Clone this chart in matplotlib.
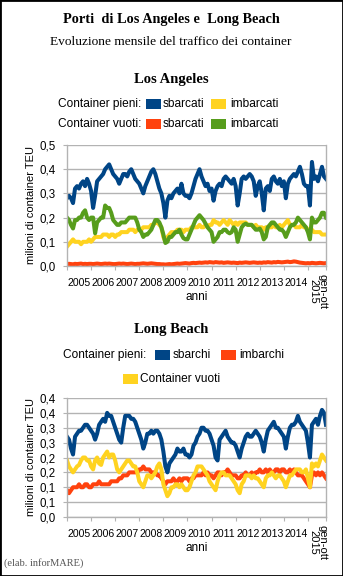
import numpy as np
import matplotlib
matplotlib.use("Agg")
import matplotlib.pyplot as plt
from matplotlib.patches import Rectangle

# Etichette asse x
anni = ["2005", "2006", "2007", "2008", "2009", "2010", "2011", "2012", "2013", "2014"]
ultimo = "gen-ott\n2015"

# Los Angeles (milioni di TEU, mensile gen 2005 - ott 2015)
la_pieni_sbarcati = [
    0.28, 0.29, 0.28, 0.26, 0.32, 0.33, 0.32, 0.34, 0.35, 0.33, 0.36, 0.34,
    0.31, 0.24, 0.29, 0.35, 0.36, 0.37, 0.38, 0.40, 0.41, 0.42, 0.40, 0.38,
    0.37, 0.36, 0.34, 0.36, 0.38, 0.38, 0.37, 0.39, 0.40, 0.38, 0.36, 0.35,
    0.34, 0.32, 0.30, 0.33, 0.35, 0.37, 0.39, 0.40, 0.38, 0.35, 0.32, 0.30,
    0.26, 0.20, 0.27, 0.29, 0.28, 0.30, 0.31, 0.32, 0.30, 0.34, 0.30, 0.29,
    0.29, 0.28, 0.30, 0.33, 0.36, 0.38, 0.40, 0.37, 0.35, 0.33, 0.34, 0.31,
    0.32, 0.27, 0.31, 0.33, 0.34, 0.33, 0.36, 0.37, 0.36, 0.35, 0.34, 0.36,
    0.33, 0.25, 0.30, 0.36, 0.37, 0.36, 0.37, 0.38, 0.37, 0.35, 0.29, 0.33,
    0.35, 0.30, 0.23, 0.32, 0.33, 0.31, 0.36, 0.37, 0.35, 0.34, 0.36, 0.33,
    0.35, 0.28, 0.34, 0.36, 0.37, 0.38, 0.37, 0.39, 0.41, 0.38, 0.34, 0.33,
    0.33, 0.25, 0.43, 0.36, 0.37, 0.35, 0.38, 0.41, 0.37, 0.36,
]
la_pieni_imbarcati = [
    0.08, 0.09, 0.10, 0.11, 0.10, 0.10, 0.10, 0.09, 0.10, 0.10, 0.10, 0.11,
    0.10, 0.11, 0.12, 0.12, 0.12, 0.12, 0.13, 0.13, 0.13, 0.12, 0.13, 0.13,
    0.12, 0.13, 0.13, 0.14, 0.14, 0.14, 0.14, 0.15, 0.15, 0.15, 0.14, 0.15,
    0.15, 0.15, 0.16, 0.16, 0.16, 0.16, 0.17, 0.17, 0.18, 0.18, 0.17, 0.16,
    0.12, 0.10, 0.12, 0.13, 0.14, 0.14, 0.14, 0.15, 0.15, 0.15, 0.14, 0.15,
    0.15, 0.15, 0.16, 0.16, 0.16, 0.16, 0.17, 0.16, 0.16, 0.17, 0.16, 0.17,
    0.17, 0.19, 0.18, 0.18, 0.17, 0.18, 0.19, 0.18, 0.17, 0.19, 0.18, 0.17,
    0.18, 0.17, 0.18, 0.18, 0.18, 0.18, 0.17, 0.17, 0.17, 0.16, 0.17, 0.16,
    0.16, 0.16, 0.15, 0.16, 0.16, 0.16, 0.16, 0.17, 0.16, 0.16, 0.17, 0.16,
    0.17, 0.18, 0.19, 0.17, 0.17, 0.17, 0.16, 0.16, 0.16, 0.17, 0.16, 0.16,
    0.15, 0.15, 0.15, 0.14, 0.14, 0.14, 0.14, 0.13, 0.13, 0.13,
]
la_vuoti_sbarcati = [
    0.008, 0.009, 0.008, 0.007, 0.009, 0.008, 0.009, 0.010, 0.008, 0.009, 0.008, 0.009,
    0.009, 0.008, 0.009, 0.010, 0.009, 0.008, 0.009, 0.010, 0.009, 0.010, 0.009, 0.008,
    0.008, 0.009, 0.010, 0.009, 0.010, 0.009, 0.008, 0.009, 0.010, 0.009, 0.008, 0.009,
    0.009, 0.010, 0.011, 0.010, 0.009, 0.010, 0.011, 0.010, 0.009, 0.008, 0.008, 0.007,
    0.007, 0.006, 0.007, 0.008, 0.007, 0.008, 0.009, 0.010, 0.009, 0.010, 0.011, 0.012,
    0.011, 0.010, 0.012, 0.013, 0.012, 0.013, 0.014, 0.013, 0.014, 0.015, 0.014, 0.016,
    0.015, 0.014, 0.016, 0.015, 0.014, 0.015, 0.013, 0.014, 0.015, 0.014, 0.013, 0.014,
    0.013, 0.012, 0.014, 0.013, 0.014, 0.015, 0.014, 0.013, 0.014, 0.015, 0.014, 0.013,
    0.014, 0.013, 0.015, 0.014, 0.016, 0.015, 0.014, 0.016, 0.015, 0.017, 0.016, 0.015,
    0.016, 0.017, 0.018, 0.016, 0.017, 0.019, 0.018, 0.016, 0.014, 0.013, 0.012, 0.011,
    0.012, 0.011, 0.013, 0.012, 0.011, 0.012, 0.013, 0.012, 0.011, 0.012,
]
la_vuoti_imbarcati = [
    0.20, 0.19, 0.17, 0.155, 0.19, 0.19, 0.20, 0.20, 0.22, 0.23, 0.20, 0.19,
    0.20, 0.20, 0.135, 0.18, 0.19, 0.20, 0.20, 0.25, 0.24, 0.24, 0.22, 0.19,
    0.18, 0.17, 0.17, 0.18, 0.18, 0.18, 0.19, 0.20, 0.20, 0.20, 0.20, 0.18,
    0.15, 0.14, 0.12, 0.13, 0.13, 0.14, 0.15, 0.17, 0.19, 0.19, 0.18, 0.16,
    0.13, 0.095, 0.10, 0.12, 0.12, 0.13, 0.14, 0.14, 0.15, 0.13, 0.115, 0.11,
    0.11, 0.13, 0.15, 0.17, 0.19, 0.20, 0.21, 0.20, 0.19, 0.175, 0.16, 0.15,
    0.14, 0.10, 0.11, 0.12, 0.14, 0.14, 0.15, 0.15, 0.14, 0.135, 0.14, 0.16,
    0.15, 0.10, 0.13, 0.16, 0.17, 0.175, 0.17, 0.17, 0.17, 0.16, 0.15, 0.15,
    0.155, 0.14, 0.11, 0.12, 0.16, 0.17, 0.18, 0.18, 0.17, 0.16, 0.15, 0.15,
    0.14, 0.12, 0.14, 0.16, 0.17, 0.17, 0.18, 0.20, 0.19, 0.18, 0.17, 0.16,
    0.14, 0.11, 0.20, 0.18, 0.18, 0.19, 0.20, 0.22, 0.22, 0.20,
]

# Long Beach
lb_sbarchi = [
    0.27, 0.26, 0.23, 0.21, 0.27, 0.28, 0.29, 0.29, 0.30, 0.31, 0.31, 0.30,
    0.29, 0.28, 0.26, 0.28, 0.31, 0.32, 0.33, 0.32, 0.35, 0.34, 0.34, 0.32,
    0.30, 0.28, 0.26, 0.25, 0.30, 0.34, 0.34, 0.34, 0.33, 0.33, 0.32, 0.30,
    0.28, 0.26, 0.23, 0.25, 0.28, 0.28, 0.29, 0.28, 0.29, 0.29, 0.28, 0.26,
    0.22, 0.17, 0.15, 0.18, 0.19, 0.20, 0.21, 0.23, 0.22, 0.22, 0.23, 0.21,
    0.21, 0.20, 0.21, 0.24, 0.25, 0.27, 0.28, 0.30, 0.30, 0.29, 0.29, 0.28,
    0.26, 0.24, 0.20, 0.19, 0.26, 0.27, 0.28, 0.29, 0.27, 0.26, 0.25, 0.25,
    0.24, 0.22, 0.20, 0.23, 0.25, 0.27, 0.28, 0.27, 0.27, 0.28, 0.29, 0.28,
    0.27, 0.25, 0.22, 0.26, 0.29, 0.30, 0.31, 0.32, 0.30, 0.30, 0.29, 0.28,
    0.27, 0.23, 0.27, 0.30, 0.31, 0.31, 0.32, 0.34, 0.32, 0.31, 0.30, 0.29,
    0.25, 0.20, 0.31, 0.32, 0.33, 0.31, 0.34, 0.36, 0.35, 0.31,
]
lb_imbarchi = [
    0.09, 0.08, 0.09, 0.10, 0.10, 0.10, 0.11, 0.10, 0.10, 0.11, 0.11, 0.10,
    0.10, 0.11, 0.11, 0.11, 0.12, 0.11, 0.11, 0.11, 0.11, 0.11, 0.12, 0.12,
    0.12, 0.12, 0.13, 0.13, 0.14, 0.14, 0.14, 0.15, 0.15, 0.15, 0.15, 0.15,
    0.16, 0.16, 0.17, 0.16, 0.16, 0.16, 0.15, 0.15, 0.15, 0.14, 0.14, 0.13,
    0.12, 0.11, 0.12, 0.12, 0.12, 0.13, 0.12, 0.12, 0.13, 0.12, 0.13, 0.13,
    0.13, 0.12, 0.13, 0.13, 0.14, 0.14, 0.14, 0.14, 0.15, 0.14, 0.15, 0.14,
    0.14, 0.13, 0.14, 0.15, 0.15, 0.14, 0.15, 0.15, 0.16, 0.15, 0.14, 0.14,
    0.14, 0.13, 0.13, 0.14, 0.14, 0.15, 0.14, 0.14, 0.15, 0.14, 0.15, 0.15,
    0.16, 0.15, 0.15, 0.16, 0.15, 0.16, 0.15, 0.15, 0.16, 0.16, 0.15, 0.16,
    0.16, 0.15, 0.15, 0.16, 0.15, 0.16, 0.15, 0.14, 0.14, 0.14, 0.13, 0.12,
    0.11, 0.10, 0.14, 0.15, 0.14, 0.15, 0.14, 0.15, 0.14, 0.13,
]
lb_vuoti = [
    0.19, 0.17, 0.16, 0.15, 0.16, 0.17, 0.175, 0.19, 0.20, 0.20, 0.19, 0.19,
    0.17, 0.16, 0.19, 0.20, 0.18, 0.175, 0.20, 0.21, 0.22, 0.20, 0.21, 0.21,
    0.19, 0.16, 0.15, 0.16, 0.17, 0.18, 0.19, 0.19, 0.18, 0.17, 0.17, 0.15,
    0.12, 0.11, 0.10, 0.12, 0.14, 0.14, 0.13, 0.14, 0.15, 0.17, 0.18, 0.16,
    0.11, 0.09, 0.07, 0.08, 0.10, 0.10, 0.11, 0.11, 0.10, 0.11, 0.10, 0.09,
    0.09, 0.10, 0.12, 0.14, 0.15, 0.17, 0.17, 0.17, 0.16, 0.15, 0.14, 0.12,
    0.11, 0.10, 0.09, 0.12, 0.14, 0.15, 0.15, 0.14, 0.14, 0.14, 0.13, 0.12,
    0.11, 0.09, 0.08, 0.11, 0.12, 0.14, 0.14, 0.14, 0.13, 0.14, 0.13, 0.13,
    0.12, 0.11, 0.10, 0.13, 0.14, 0.14, 0.15, 0.14, 0.13, 0.14, 0.14, 0.13,
    0.12, 0.10, 0.12, 0.14, 0.14, 0.15, 0.16, 0.16, 0.16, 0.15, 0.15, 0.16,
    0.13, 0.10, 0.18, 0.17, 0.18, 0.17, 0.19, 0.21, 0.20, 0.19,
]

BLU = "#004586"
GIALLO = "#ffd320"
ROSSO = "#ff420e"
VERDE = "#579d1c"
GRIGIO = "#b3b3b3"

W, H = 343, 576
fig = plt.figure(figsize=(W / 100, H / 100), dpi=100)
fig.patch.set_facecolor("white")
fig.patches.append(Rectangle((0, 0), 1, 1, transform=fig.transFigure,
                             fill=False, ec="black", lw=2))

serif = "Liberation Serif"
sans = "Liberation Sans"


def fx(px):
    return px / W


def fy(py):
    return 1 - py / H


def testo(x, y, s, **kw):
    fig.text(fx(x), fy(y), s, va="center", **kw)


def quadrato(x, y, colore):
    fig.patches.append(Rectangle((fx(x), fy(y + 5)), 15 / W, 10 / H,
                                 transform=fig.transFigure, fc=colore, ec="none"))


# titoli
testo(171, 20, "Porti  di Los Angeles e  Long Beach", family=serif,
      fontweight="bold", fontsize=10.3, ha="center")
testo(171, 42, "Evoluzione mensile del traffico dei container", family=serif,
      fontsize=9.6, ha="center")
testo(171, 80, "Los Angeles", family=serif, fontweight="bold", fontsize=10.5, ha="center")
testo(171, 329, "Long Beach", family=serif, fontweight="bold", fontsize=10.5, ha="center")

# legenda Los Angeles
fs_leg = 8.6
testo(58, 104, "Container pieni:", family=sans, fontsize=fs_leg)
quadrato(146, 104, BLU)
testo(163, 104, "sbarcati", family=sans, fontsize=fs_leg)
quadrato(211, 104, GIALLO)
testo(230, 104, "imbarcati", family=sans, fontsize=fs_leg)
testo(58, 124, "Container vuoti:", family=sans, fontsize=fs_leg)
quadrato(146, 124, ROSSO)
testo(163, 124, "sbarcati", family=sans, fontsize=fs_leg)
quadrato(211, 124, VERDE)
testo(230, 124, "imbarcati", family=sans, fontsize=fs_leg)

# legenda Long Beach
testo(63, 355, "Container pieni:", family=sans, fontsize=fs_leg)
quadrato(155, 355, BLU)
testo(173, 355, "sbarchi", family=sans, fontsize=fs_leg)
quadrato(221, 355, ROSSO)
testo(239, 355, "imbarchi", family=sans, fontsize=fs_leg)
quadrato(123, 379, GIALLO)
testo(140, 379, "Container vuoti", family=sans, fontsize=fs_leg)

testo(4, 563, "(elab. inforMARE)", family=serif, fontsize=7.5, color="#555555")

mesi = np.arange(len(la_pieni_sbarcati))


def prepara(ax, top, yticks, ylabels):
    ax.set_xlim(0, len(mesi) - 1)
    ax.set_ylim(0, top)
    ax.set_yticks(yticks)
    ax.set_yticklabels(ylabels, family=sans, fontsize=8.3)
    ax.yaxis.grid(True, color=GRIGIO, lw=1)
    ax.set_axisbelow(True)
    for s in ax.spines.values():
        s.set_color(GRIGIO)
        s.set_linewidth(1)
    ax.spines["top"].set_visible(False)
    confini = list(range(0, 121, 12)) + [len(mesi) - 1]
    ax.set_xticks(confini)
    ax.set_xticklabels([])
    ax.tick_params(axis="both", color=GRIGIO, length=3, pad=5)
    altezza = ax.get_position().height * H
    centri = [i * 12 + 6 for i in range(len(anni))]
    for c, a in zip(centri, anni):
        ax.text(c, -17 / altezza, a, transform=ax.get_xaxis_transform(), ha="center",
                va="center", family=sans, fontsize=7.6)
    ax.text(125, -8 / altezza, ultimo, transform=ax.get_xaxis_transform(), ha="center",
            va="top", rotation=-90, family=sans, fontsize=8, linespacing=0.8)
    ax.text(0.5, -31 / altezza, "anni", transform=ax.transAxes, ha="center",
            va="center", family=sans, fontsize=8.5)
    ax.text(-0.14, 0.5, "milioni di container TEU", transform=ax.transAxes,
            rotation=90, ha="center", va="center", family=sans, fontsize=8)


lw = 2.9
ax1 = fig.add_axes([fx(67), fy(266), 259 / W, 121 / H])
prepara(ax1, 0.5, [0, 0.1, 0.2, 0.3, 0.4, 0.5], ["0,0", "0,1", "0,2", "0,3", "0,4", "0,5"])
ax1.plot(mesi, la_vuoti_sbarcati, color=ROSSO, lw=lw)
ax1.plot(mesi, la_pieni_imbarcati, color=GIALLO, lw=lw)
ax1.plot(mesi, la_vuoti_imbarcati, color=VERDE, lw=lw)
ax1.plot(mesi, la_pieni_sbarcati, color=BLU, lw=lw)

ax2 = fig.add_axes([fx(67), fy(517), 259 / W, 119 / H])
prepara(ax2, 0.4, [0, 0.05, 0.1, 0.15, 0.2, 0.25, 0.3, 0.35, 0.4],
        ["0,0", "0,1", "0,1", "0,2", "0,2", "0,3", "0,3", "0,4", "0,4"])
ax2.plot(mesi, lb_imbarchi, color=ROSSO, lw=lw)
ax2.plot(mesi, lb_vuoti, color=GIALLO, lw=lw)
ax2.plot(mesi, lb_sbarchi, color=BLU, lw=lw)

fig.savefig("out.png", dpi=100)
